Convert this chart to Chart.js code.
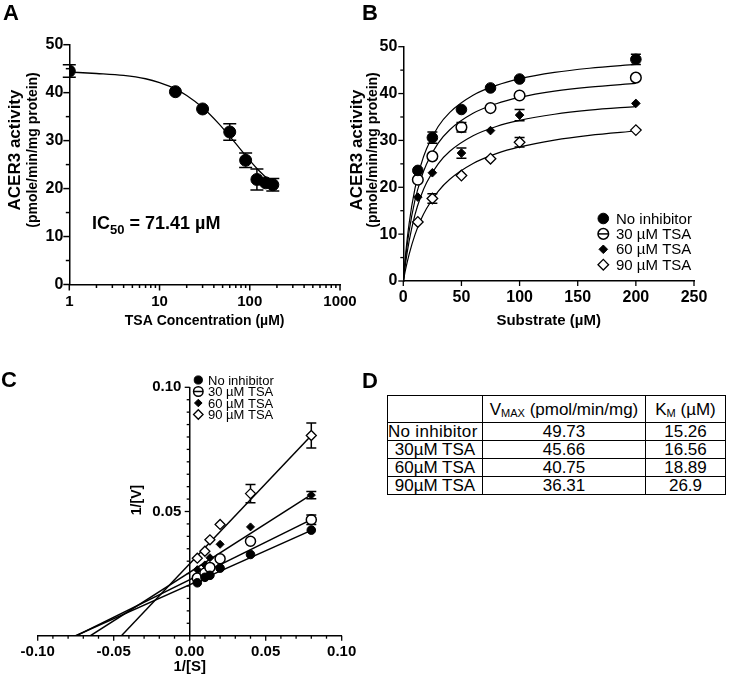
<!DOCTYPE html>
<html>
<head>
<meta charset="utf-8">
<script src="https://cdn.jsdelivr.net/npm/chart.js@4.4.0/dist/chart.umd.min.js"></script>
<style>
html,body{margin:0;padding:0;background:#fff;}
#wrap{position:relative;width:740px;height:681px;overflow:hidden;font-family:'Liberation Sans',Arial,sans-serif;color:#000;}
canvas{position:absolute;}
.plab{position:absolute;font-weight:bold;font-size:22px;line-height:22px;}
#ic50{position:absolute;left:92px;top:211px;font-weight:bold;font-size:18px;line-height:24px;white-space:nowrap;}
#ic50 sub{font-size:13px;vertical-align:-5px;line-height:0;}
#tbl{position:absolute;left:387px;top:395px;border-collapse:collapse;font-size:17px;}
#tbl td{border:1px solid #000;padding:0;text-align:center;line-height:17px;white-space:nowrap;overflow:hidden;}
#tbl tr.h td{height:26px;}
#tbl tr.r td{height:17px;}
#tbl sub{font-size:11px;vertical-align:-2px;line-height:0;}
</style>
</head>
<body>
<div id="wrap">
  <canvas id="cA" width="370" height="345" style="left:0;top:0"></canvas>
  <canvas id="cB" width="395" height="345" style="left:345px;top:0"></canvas>
  <canvas id="cC" width="370" height="336" style="left:0;top:345px"></canvas>
  <div class="plab" style="left:3px;top:2px">A</div>
  <div class="plab" style="left:362px;top:2px">B</div>
  <div class="plab" style="left:1px;top:369px">C</div>
  <div class="plab" style="left:362px;top:370px">D</div>
  <div id="ic50">IC<sub>50</sub> = 71.41 µM</div>
  <table id="tbl"></table>
</div>
<script>
// ---------------- Panel A: inhibition curve ----------------
const aConc = [1, 15, 30, 60, 90, 120, 150, 180];
const aActivity = [44.5, 40.2, 36.6, 31.8, 25.9, 21.9, 21.2, 20.8];
const aError = [1.3, 0, 0, 1.7, 1.5, 2.2, 0.4, 1.3];
const aCurveConc = [1, 2, 4, 7, 10, 15, 20, 30, 45, 60, 75, 90, 120, 150, 185, 200];
const aCurveActivity = [44.3, 44.0, 43.6, 42.9, 42.1, 40.8, 39.4, 36.9, 33.6, 30.9, 28.7, 26.9, 24.2, 22.4, 20.8, 20.3];
const aXTicks = [1, 10, 100, 1000];
const aYTicks = [0, 10, 20, 30, 40, 50];

// ---------------- Panel B: Michaelis-Menten ----------------
const bSubstrate = [12.5, 25, 50, 75, 100, 200];
const bNoInhibitor = [23.6, 30.6, 36.6, 41.2, 43.1, 47.3];
const bNoInhibitorErr = [0, 1.2, 0, 0, 0, 1.1];
const bTSA30 = [21.6, 26.6, 32.8, 36.9, 39.6, 43.4];
const bTSA30Err = [0, 0, 1.0, 0, 0, 0];
const bTSA60 = [17.9, 23.1, 27.3, 32.1, 35.4, 37.9];
const bTSA60Err = [0, 0, 1.1, 0, 1.2, 0];
const bTSA90 = [12.6, 17.6, 22.5, 26.1, 29.6, 32.2];
const bTSA90Err = [0, 1.0, 0, 0, 1.0, 0];
const bCurveSubstrate = [0, 2, 5, 10, 15, 20, 30, 40, 60, 80, 100, 130, 160, 200];
const bCurveNoInhibitor = [0, 5.76, 12.27, 19.69, 24.65, 28.21, 32.96, 36.00, 39.65, 41.76, 43.15, 44.51, 45.40, 46.21];
const bCurveTSA30 = [0, 4.92, 10.59, 17.19, 21.70, 24.98, 29.42, 32.29, 35.78, 37.83, 39.17, 40.50, 41.38, 42.17];
const bCurveTSA60 = [0, 3.90, 8.53, 14.11, 18.04, 20.96, 25.00, 27.68, 30.99, 32.97, 34.27, 35.58, 36.45, 37.23];
const bCurveTSA90 = [0, 2.51, 5.69, 9.84, 13.00, 15.48, 19.14, 21.71, 25.07, 27.17, 28.61, 30.08, 31.08, 32.01];
const bXTicks = [0, 50, 100, 150, 200, 250];
const bYTicks = [0, 10, 20, 30, 40, 50];

// ---------------- Panel C: Lineweaver-Burk ----------------
const cInvS = [0.005, 0.01, 0.0133, 0.02, 0.04, 0.08];
const cNoInhibitor = [0.0213, 0.0235, 0.0243, 0.0272, 0.0327, 0.0425];
const cNoInhibitorErr = [0, 0, 0, 0, 0, 0];
const cTSA30 = [0.0232, 0.0252, 0.0275, 0.0310, 0.0380, 0.0467];
const cTSA30Err = [0, 0, 0, 0, 0, 0.0019];
const cTSA60 = [0.0266, 0.0285, 0.0314, 0.0368, 0.0438, 0.0566];
const cTSA60Err = [0, 0, 0, 0, 0, 0.0015];
const cTSA90 = [0.0312, 0.0340, 0.0386, 0.0448, 0.0572, 0.0806];
const cTSA90Err = [0, 0, 0, 0, 0.0037, 0.0050];
const cLineStartX = [-0.075, -0.0745, -0.0653, -0.0449];
const cLineEndX = [0.08, 0.08, 0.08, 0.08];
const cLineEndY = [0.0424, 0.0467, 0.0568, 0.0806];
const cXTicks = [-0.10, -0.05, 0.00, 0.05, 0.10];
const cYTicks = [0.05, 0.10];

// ---------------- Panel D: kinetic parameters ----------------
const dHeaders = ['', 'V<sub>MAX</sub> (pmol/min/mg)', 'K<sub>M</sub> (µM)'];
const dRowLabels = ['No inhibitor', '30µM TSA', '60µM TSA', '90µM TSA'];
const dVmax = ['49.73', '45.66', '40.75', '36.31'];
const dKm = ['15.26', '16.56', '18.89', '26.9'];

const seriesLabels = ['No inhibitor', '30 µM TSA', '60 µM TSA', '90 µM TSA'];

// ================================================================
const FONT = "'Liberation Sans', Arial, sans-serif";
Chart.defaults.font.family = FONT;
Chart.defaults.color = '#000';
const H = Chart.helpers;

const pts = (xs, ys) => xs.map((x, i) => ({x: x, y: ys[i]}));

function range(a, b, step, skipEvery) {
  const out = [];
  const n = Math.round((b - a) / step);
  for (let i = 0; i <= n; i++) {
    if (skipEvery && i % skipEvery === 0) continue;
    out.push(+(a + i * step).toFixed(6));
  }
  return out;
}

const errorBarPlugin = {
  id: 'errorBars',
  afterDatasetsDraw(chart, args, o) {
    const ctx = chart.ctx, xs = chart.scales.x, ys = chart.scales.y;
    ctx.save();
    ctx.strokeStyle = '#000';
    ctx.lineWidth = o.lineWidth || 1.5;
    chart.data.datasets.forEach(ds => {
      if (!ds.errors) return;
      const inner = ds.pointRadius || 0;
      ds.data.forEach((p, j) => {
        const e = ds.errors[j];
        if (!e) return;
        const x = xs.getPixelForValue(p.x);
        const yc = ys.getPixelForValue(p.y);
        const yt = ys.getPixelForValue(p.y + e);
        const yb = ys.getPixelForValue(p.y - e);
        const c = o.cap || 5;
        ctx.beginPath();
        if (yc - yt > inner) { ctx.moveTo(x, yt); ctx.lineTo(x, yc - inner); }
        if (yb - yc > inner) { ctx.moveTo(x, yc + inner); ctx.lineTo(x, yb); }
        ctx.moveTo(x - c, yt); ctx.lineTo(x + c, yt);
        ctx.moveTo(x - c, yb); ctx.lineTo(x + c, yb);
        ctx.stroke();
      });
    });
    ctx.restore();
  }
};

const tickPlugin = {
  id: 'axisTicks',
  afterDraw(chart, args, o) {
    const ctx = chart.ctx, xs = chart.scales.x, ys = chart.scales.y, ca = chart.chartArea;
    ctx.save();
    ctx.strokeStyle = '#000';
    ctx.lineWidth = o.lineWidth || 1.5;
    const yAxisX = (o.yAxisAt !== undefined) ? xs.getPixelForValue(o.yAxisAt) : ca.left;
    const xAxisY = ca.bottom;
    const seg = (x1, y1, x2, y2) => { ctx.beginPath(); ctx.moveTo(x1, y1); ctx.lineTo(x2, y2); ctx.stroke(); };
    xs.ticks.forEach(t => { const p = xs.getPixelForValue(t.value); seg(p, xAxisY, p, xAxisY + o.xMajor); });
    (o.xMinor || []).forEach(v => { const p = xs.getPixelForValue(v); seg(p, xAxisY, p, xAxisY + o.xMinorLen); });
    ys.ticks.forEach(t => { const p = ys.getPixelForValue(t.value); seg(yAxisX, p, yAxisX - o.yMajor, p); });
    (o.yMinor || []).forEach(v => { const p = ys.getPixelForValue(v); seg(yAxisX, p, yAxisX - o.yMinorLen, p); });
    ctx.restore();
  }
};

const yTitlePlugin = {
  id: 'yTitle',
  afterDraw(chart, args, o) {
    if (!o.lines) return;
    const ctx = chart.ctx;
    o.lines.forEach(l => {
      ctx.save();
      ctx.translate(l.x, o.y);
      ctx.rotate(-Math.PI / 2);
      ctx.font = l.font;
      ctx.fillStyle = '#000';
      ctx.textAlign = 'center';
      ctx.textBaseline = 'middle';
      ctx.fillText(l.text, 0, 0);
      ctx.restore();
    });
  }
};

const legendPlugin = {
  id: 'markerLegend',
  afterDraw(chart, args, o) {
    if (!o.show) return;
    const ctx = chart.ctx;
    const items = chart.data.datasets.filter(d => d.inLegend);
    items.forEach((d, i) => {
      const y = o.y + i * o.dy;
      ctx.save();
      ctx.fillStyle = d.pointBackgroundColor;
      ctx.strokeStyle = d.pointBorderColor;
      ctx.lineWidth = d.pointBorderWidth;
      H.drawPoint(ctx, {pointStyle: d.pointStyle, radius: d.pointRadius * o.scale, rotation: 0, borderWidth: d.pointBorderWidth}, o.x, y);
      if (d.legendBar) {
        ctx.beginPath();
        ctx.moveTo(o.x - d.pointRadius * o.scale, y);
        ctx.lineTo(o.x + d.pointRadius * o.scale, y);
        ctx.stroke();
      }
      ctx.fillStyle = '#000';
      ctx.font = o.font;
      ctx.textAlign = 'left';
      ctx.textBaseline = 'middle';
      ctx.fillText(d.label, o.tx, y + 1);
      ctx.restore();
    });
  }
};

Chart.register(errorBarPlugin, tickPlugin, yTitlePlugin, legendPlugin);

function markerSet(kind, r) {
  const black = '#000';
  if (kind === 'filledCircle') return {pointStyle: 'circle', pointRadius: r, pointBackgroundColor: black, pointBorderColor: black, pointBorderWidth: 1};
  if (kind === 'openCircle') return {pointStyle: 'circle', pointRadius: r, pointBackgroundColor: '#fff', pointBorderColor: black, pointBorderWidth: 1.5, legendBar: true};
  if (kind === 'filledDiamond') return {pointStyle: 'rectRot', pointRadius: r, pointBackgroundColor: black, pointBorderColor: black, pointBorderWidth: 1};
  return {pointStyle: 'rectRot', pointRadius: r, pointBackgroundColor: '#fff', pointBorderColor: black, pointBorderWidth: 1.3};
}

function fixedTicks(values) {
  return function (scale) { scale.ticks = values.map(v => ({value: v})); };
}

const baseOptions = {
  responsive: false,
  animation: false,
  devicePixelRatio: 1,
  events: []
};

function axisBase(extra) {
  return Object.assign({
    grid: {display: true, drawOnChartArea: false, drawTicks: false},
    border: {display: true, color: '#000', width: 1.5}
  }, extra);
}

// ---------------- Chart A ----------------
new Chart(document.getElementById('cA'), {
  type: 'scatter',
  data: {
    datasets: [
      Object.assign({label: 'ACER3 activity', data: pts(aConc, aActivity), errors: aError, order: 0, showLine: false}, markerSet('filledCircle', 6)),
      {label: 'fit', data: pts(aCurveConc, aCurveActivity), showLine: true, pointRadius: 0, borderColor: '#000', borderWidth: 1.3, cubicInterpolationMode: 'monotone', order: 1}
    ]
  },
  options: Object.assign({}, baseOptions, {
    layout: {padding: {left: 0, top: 44.7, right: 30, bottom: 0}},
    scales: {
      x: axisBase({
        type: 'logarithmic', min: 1, max: 1000,
        afterBuildTicks: fixedTicks(aXTicks),
        afterFit(s) { s.height = 60.5; },
        ticks: {padding: 8, autoSkip: false, maxRotation: 0, font: {size: 15, weight: 'bold'}, callback: v => String(v)},
        title: {display: true, text: 'TSA Concentration (µM)', font: {size: 14, weight: 'bold'}, padding: {top: 0, bottom: 15}}
      }),
      y: axisBase({
        min: 0, max: 50,
        afterBuildTicks: fixedTicks(aYTicks),
        afterFit(s) { s.width = 69.3; },
        ticks: {padding: 6, autoSkip: false, font: {size: 16, weight: 'bold'}}
      })
    },
    plugins: {
      legend: {display: false}, tooltip: {enabled: false},
      errorBars: {cap: 6.5, lineWidth: 1.5},
      axisTicks: {xMajor: 6, xMinorLen: 3.5, yMajor: 6, yMinorLen: 3.5, lineWidth: 1.5,
        xMinor: [].concat(range(2, 9, 1), range(20, 90, 10), range(200, 900, 100)),
        yMinor: range(5, 45, 10)},
      yTitle: {y: 150, lines: [
        {text: 'ACER3 activity', x: 15, font: "bold 17px " + FONT},
        {text: '(pmole/min/mg protein)', x: 33, font: "bold 14px " + FONT}
      ]}
    }
  })
});

// ---------------- Chart B ----------------
const bCurveStyle = {showLine: true, pointRadius: 0, borderColor: '#000', borderWidth: 1.2, cubicInterpolationMode: 'monotone', order: 2};
new Chart(document.getElementById('cB'), {
  type: 'scatter',
  data: {
    datasets: [
      Object.assign({label: seriesLabels[0], data: pts(bSubstrate, bNoInhibitor), errors: bNoInhibitorErr, inLegend: true, order: 0}, markerSet('filledCircle', 5.3)),
      Object.assign({label: seriesLabels[1], data: pts(bSubstrate, bTSA30), errors: bTSA30Err, inLegend: true, order: 0}, markerSet('openCircle', 5.3)),
      Object.assign({label: seriesLabels[2], data: pts(bSubstrate, bTSA60), errors: bTSA60Err, inLegend: true, order: 0}, markerSet('filledDiamond', 4.3)),
      Object.assign({label: seriesLabels[3], data: pts(bSubstrate, bTSA90), errors: bTSA90Err, inLegend: true, order: 0}, markerSet('openDiamond', 5.3)),
      Object.assign({label: 'fit0', data: pts(bCurveSubstrate, bCurveNoInhibitor)}, bCurveStyle),
      Object.assign({label: 'fit30', data: pts(bCurveSubstrate, bCurveTSA30)}, bCurveStyle),
      Object.assign({label: 'fit60', data: pts(bCurveSubstrate, bCurveTSA60)}, bCurveStyle),
      Object.assign({label: 'fit90', data: pts(bCurveSubstrate, bCurveTSA90)}, bCurveStyle)
    ]
  },
  options: Object.assign({}, baseOptions, {
    layout: {padding: {left: 0, top: 46.7, right: 46, bottom: 0}},
    scales: {
      x: axisBase({
        min: 0, max: 250,
        afterBuildTicks: fixedTicks(bXTicks),
        afterFit(s) { s.height = 64; },
        ticks: {padding: 7, autoSkip: false, maxRotation: 0, font: {size: 16, weight: 'bold'}},
        title: {display: true, text: 'Substrate (µM)', font: {size: 15, weight: 'bold'}, padding: {top: 0, bottom: 15}}
      }),
      y: axisBase({
        min: 0, max: 50,
        afterBuildTicks: fixedTicks(bYTicks),
        afterFit(s) { s.width = 58.3; },
        ticks: {padding: 6, autoSkip: false, font: {size: 16, weight: 'bold'}}
      })
    },
    plugins: {
      legend: {display: false}, tooltip: {enabled: false},
      errorBars: {cap: 5, lineWidth: 1.5},
      axisTicks: {xMajor: 5, xMinorLen: 3, yMajor: 5, yMinorLen: 3, lineWidth: 1.3,
        xMinor: [], yMinor: range(5, 45, 10)},
      yTitle: {y: 150, lines: [
        {text: 'ACER3 activity', x: 12, font: "bold 17px " + FONT},
        {text: '(pmole/min/mg protein)', x: 28, font: "bold 14px " + FONT}
      ]},
      markerLegend: {show: true, x: 258.3, tx: 271, y: 218.5, dy: 15.4, scale: 1, font: "15px " + FONT}
    }
  })
});

// ---------------- Chart C ----------------
const cLineDatasets = cLineStartX.map((sx, i) => ({
  label: 'lb' + i,
  data: [{x: sx, y: 0}, {x: cLineEndX[i], y: cLineEndY[i]}],
  showLine: true, pointRadius: 0, borderColor: '#000', borderWidth: 1.5, order: 2
}));
new Chart(document.getElementById('cC'), {
  type: 'scatter',
  data: {
    datasets: [
      Object.assign({label: seriesLabels[0], data: pts(cInvS, cNoInhibitor), errors: cNoInhibitorErr, inLegend: true, order: 0}, markerSet('filledCircle', 4.3)),
      Object.assign({label: seriesLabels[1], data: pts(cInvS, cTSA30), errors: cTSA30Err, inLegend: true, order: 0}, markerSet('openCircle', 5)),
      Object.assign({label: seriesLabels[2], data: pts(cInvS, cTSA60), errors: cTSA60Err, inLegend: true, order: 0}, markerSet('filledDiamond', 4)),
      Object.assign({label: seriesLabels[3], data: pts(cInvS, cTSA90), errors: cTSA90Err, inLegend: true, order: 0}, markerSet('openDiamond', 5))
    ].concat(cLineDatasets)
  },
  options: Object.assign({}, baseOptions, {
    layout: {padding: {left: 37.7, top: 42.3, right: 28.3, bottom: 0}},
    scales: {
      x: axisBase({
        min: -0.1, max: 0.1,
        afterBuildTicks: fixedTicks(cXTicks),
        afterFit(s) { s.height = 45.3; },
        ticks: {padding: 7, autoSkip: false, maxRotation: 0, font: {size: 15, weight: 'bold'}, callback: v => v.toFixed(2)},
        title: {display: true, text: '1/[S]', font: {size: 15, weight: 'bold'}, padding: {top: 0, bottom: 5}}
      }),
      y: axisBase({
        min: 0, max: 0.1,
        position: {x: 0},
        afterBuildTicks: fixedTicks(cYTicks),
        ticks: {padding: 8, autoSkip: false, font: {size: 15, weight: 'bold'}, callback: v => v.toFixed(2) + '  '}
      })
    },
    plugins: {
      legend: {display: false}, tooltip: {enabled: false},
      errorBars: {cap: 5, lineWidth: 1.5},
      axisTicks: {xMajor: 5, xMinorLen: 3, yMajor: 5, yMinorLen: 3, lineWidth: 1.3, yAxisAt: 0,
        xMinor: range(-0.1, 0.1, 0.01, 5), yMinor: range(0, 0.1, 0.005, 10)},
      yTitle: {y: 155, lines: [{text: '1/[V]', x: 137, font: "bold 14px " + FONT}]},
      markerLegend: {show: true, x: 198.3, tx: 208, y: 35, dy: 11.5, scale: 0.95, font: "13px " + FONT}
    }
  })
});

// ---------------- Table D ----------------
(function () {
  const t = document.getElementById('tbl');
  const widths = [94, 162, 79];
  let html = '<tr class="h">' + dHeaders.map((h, i) => '<td style="width:' + widths[i] + 'px">' + h + '</td>').join('') + '</tr>';
  dRowLabels.forEach((r, i) => {
    html += '<tr class="r"><td' + (i === 0 ? ' style="text-align:left;letter-spacing:0.3px"' : '') + '>' + r + '</td><td>' + dVmax[i] + '</td><td>' + dKm[i] + '</td></tr>';
  });
  t.innerHTML = html;
})();
</script>
</body>
</html>
